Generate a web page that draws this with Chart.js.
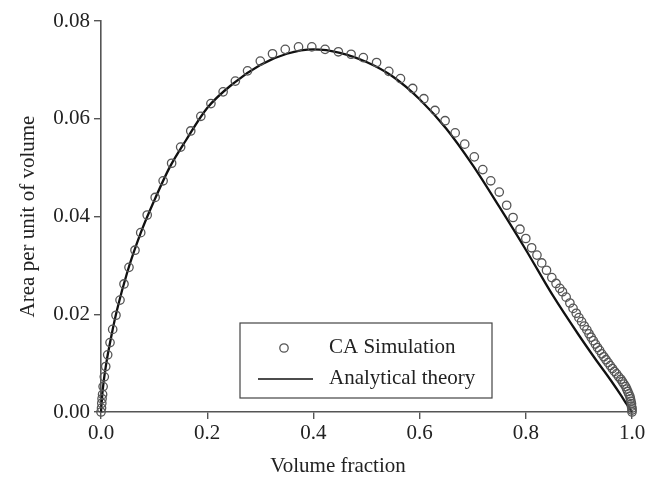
<!DOCTYPE html>
<html>
<head>
<meta charset="utf-8">
<script src="https://cdn.jsdelivr.net/npm/chart.js@4"></script>
<style>
  html, body { margin: 0; padding: 0; background: #fff; }
  #wrap { width: 660px; height: 478px; position: relative; }
</style>
</head>
<body>
<div id="wrap"><canvas id="areaChart"></canvas></div>
<script>
// CA simulation points (volume fraction, area per unit of volume)
const simX = [
  0.000, 0.001, 0.0015, 0.002, 0.003, 0.004, 0.0062, 0.0089, 0.0126, 0.017,
  0.022, 0.0282, 0.0358, 0.0433, 0.0527, 0.064, 0.0748, 0.087, 0.102, 0.117,
  0.133, 0.150, 0.169, 0.188, 0.207, 0.230, 0.253, 0.276, 0.300, 0.323,
  0.347, 0.372, 0.397, 0.422, 0.447, 0.471, 0.494, 0.519, 0.542, 0.564,
  0.587, 0.608, 0.629, 0.648, 0.667, 0.685, 0.703, 0.719, 0.734, 0.750,
  0.764, 0.776, 0.789, 0.800, 0.811, 0.821, 0.830, 0.839, 0.849, 0.857,
  0.864, 0.869, 0.876, 0.883, 0.889, 0.895, 0.900, 0.905, 0.910, 0.915,
  0.919, 0.923, 0.927, 0.931, 0.935, 0.939, 0.943, 0.947, 0.951, 0.955,
  0.959, 0.963, 0.967, 0.971, 0.975, 0.979, 0.982, 0.985, 0.988, 0.990,
  0.992, 0.994, 0.996, 0.997, 0.998, 0.999, 0.999, 1.000, 1.000, 1.000
];
const simY = [
  0.0000, 0.0008, 0.0018, 0.0027, 0.0036, 0.0052, 0.0072, 0.0093, 0.0117, 0.0142,
  0.0169, 0.0198, 0.0229, 0.0262, 0.0296, 0.0331, 0.0367, 0.0403, 0.0439, 0.0473,
  0.0509, 0.0542, 0.0575, 0.0605, 0.0631, 0.0655, 0.0677, 0.0698, 0.0718, 0.0733,
  0.0742, 0.0747, 0.0747, 0.0742, 0.0737, 0.0732, 0.0725, 0.0715, 0.0697, 0.0682,
  0.0662, 0.0641, 0.0617, 0.0596, 0.0571, 0.0548, 0.0522, 0.0496, 0.0473, 0.0450,
  0.0423, 0.0398, 0.0374, 0.0355, 0.0336, 0.0321, 0.0305, 0.0290, 0.0275, 0.0263,
  0.0253, 0.0246, 0.0235, 0.0223, 0.0212, 0.0202, 0.0193, 0.0185, 0.0176, 0.0168,
  0.0160, 0.0153, 0.0146, 0.0139, 0.0132, 0.0126, 0.0119, 0.0113, 0.0107, 0.0101,
  0.0095, 0.0089, 0.0083, 0.0078, 0.0072, 0.0067, 0.0062, 0.0057, 0.0052, 0.0047,
  0.0042, 0.0037, 0.0032, 0.0027, 0.0022, 0.0017, 0.0012, 0.0008, 0.0004, 0.0000
];

// analytical theory curve
const theoryX = [
  0, 0.002, 0.005, 0.01, 0.02, 0.03, 0.05, 0.075, 0.1, 0.13, 0.16, 0.2, 0.25,
  0.3, 0.35, 0.4, 0.45, 0.5, 0.55, 0.6, 0.65, 0.7, 0.75, 0.8, 0.85, 0.9,
  0.93, 0.96, 0.98, 0.99, 1.0
];
const theoryY = [
  0, 0.0030, 0.0062, 0.0100, 0.0158, 0.0208, 0.0288, 0.0367, 0.0432, 0.0502,
  0.0556, 0.0622, 0.0673, 0.0710, 0.0733, 0.0742, 0.0735, 0.0716, 0.0686, 0.0640,
  0.0580, 0.0505, 0.0420, 0.0332, 0.0240, 0.0157, 0.0110, 0.0065, 0.0033, 0.0016, 0
];

const seriesLabels = ["CA Simulation", "Analytical theory"];
const xTitle = "Volume fraction";
const yTitle = "Area per unit of volume";

const serif = "'Liberation Serif', 'DejaVu Serif', serif";
const axisGray = "#555";

// legend box drawn inside the plot, like the original figure
const boxLegend = {
  id: "boxLegend",
  afterDraw(chart) {
    const ctx = chart.ctx;
    const a = chart.chartArea;
    const left = a.left + 139, top = a.top + 302, w = 252, h = 75;
    ctx.save();
    ctx.fillStyle = "#fff";
    ctx.fillRect(left, top, w, h);
    ctx.strokeStyle = "#444";
    ctx.lineWidth = 1.2;
    ctx.strokeRect(left, top, w, h);

    const sim = chart.data.datasets[0];
    const th = chart.data.datasets[1];
    // circle marker
    ctx.beginPath();
    ctx.arc(left + 44, top + 25, sim.pointRadius, 0, Math.PI * 2);
    ctx.strokeStyle = sim.pointBorderColor;
    ctx.lineWidth = sim.pointBorderWidth;
    ctx.stroke();
    // line marker
    ctx.beginPath();
    ctx.moveTo(left + 18, top + 56);
    ctx.lineTo(left + 73, top + 56);
    ctx.strokeStyle = th.borderColor;
    ctx.lineWidth = 1.6;
    ctx.stroke();

    ctx.fillStyle = "#222";
    ctx.font = "21px " + serif;
    ctx.textBaseline = "middle";
    ctx.textAlign = "left";
    ctx.fillText(sim.label, left + 89, top + 24);
    ctx.fillText(th.label, left + 89, top + 55);
    ctx.restore();
  }
};

// x-axis title (sits a little left of centre in the original)
const xTitlePlugin = {
  id: "xTitlePlugin",
  afterDraw(chart) {
    const ctx = chart.ctx;
    ctx.save();
    ctx.fillStyle = "#222";
    ctx.font = "21px " + serif;
    ctx.textAlign = "center";
    ctx.textBaseline = "middle";
    ctx.fillText(xTitle, chart.width / 2 + 8, 466);
    ctx.restore();
  }
};

function createAreaChart() {
  const data = {
    datasets: [
      {
        label: seriesLabels[0],
        data: simX.map((x, i) => ({ x: x, y: simY[i] })),
        showLine: false,
        pointStyle: "circle",
        pointRadius: 4.2,
        pointBorderWidth: 1.3,
        pointBorderColor: "#555",
        pointBackgroundColor: "rgba(0,0,0,0)",
        clip: false,
        order: 0,
      },
      {
        label: seriesLabels[1],
        data: theoryX.map((x, i) => ({ x: x, y: theoryY[i] })),
        showLine: true,
        borderColor: "#111",
        borderWidth: 2.3,
        pointRadius: 0,
        cubicInterpolationMode: "monotone",
        fill: false,
        clip: false,
        order: 1,
      },
    ],
  };

  const config = {
    type: "scatter",
    data: data,
    options: {
      responsive: true,
      maintainAspectRatio: false,
      animation: false,
      layout: { padding: { top: 21, right: 28, left: 0, bottom: 0 } },
      scales: {
        x: {
          type: "linear",
          min: 0,
          max: 1,
          afterFit: (scale) => { scale.height = 66; },
          border: { color: axisGray, width: 1.6 },
          grid: { drawOnChartArea: false, drawTicks: true, tickLength: 7, color: axisGray, lineWidth: 1.4 },
          ticks: {
            stepSize: 0.2,
            padding: 2,
            color: "#222",
            maxRotation: 0,
            font: { family: serif, size: 21 },
            callback: (v) => Number(v).toFixed(1),
          },
        },
        y: {
          type: "linear",
          min: 0,
          max: 0.08,
          afterFit: (scale) => { scale.width = 101; },
          border: { color: axisGray, width: 1.6 },
          grid: { drawOnChartArea: false, drawTicks: true, tickLength: 7, color: axisGray, lineWidth: 1.4 },
          ticks: {
            stepSize: 0.02,
            padding: 4,
            color: "#222",
            font: { family: serif, size: 21 },
            callback: (v) => Number(v).toFixed(2),
          },
          title: {
            display: true,
            text: yTitle,
            color: "#222",
            font: { family: serif, size: 21 },
            padding: { top: 16, bottom: 0 },
          },
        },
      },
      plugins: {
        legend: { display: false },
        tooltip: { enabled: false },
      },
    },
    plugins: [boxLegend, xTitlePlugin],
  };

  const ctx = document.getElementById("areaChart");
  new Chart(ctx, config);
}

document.addEventListener("DOMContentLoaded", () => {
  createAreaChart();
});
</script>
</body>
</html>
